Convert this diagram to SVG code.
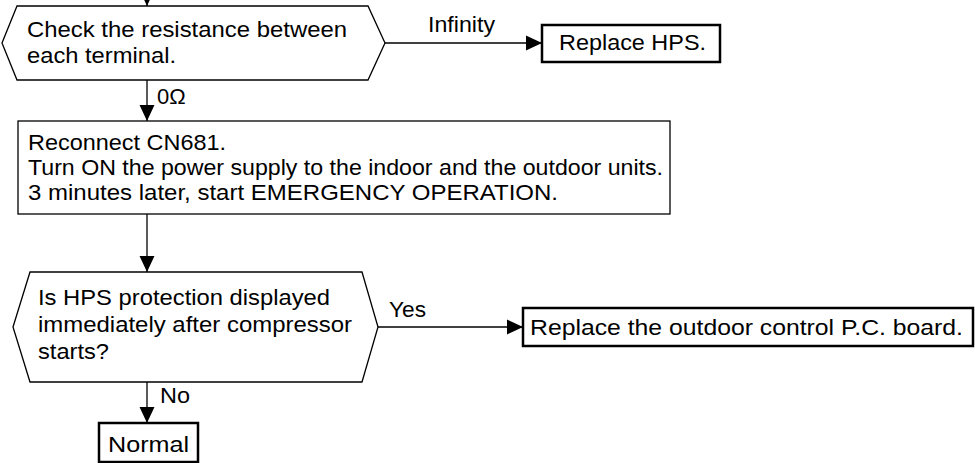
<svg xmlns="http://www.w3.org/2000/svg" width="975" height="463" viewBox="0 0 975 463">
<defs>
<marker id="ah" markerUnits="userSpaceOnUse" markerWidth="16" markerHeight="16" viewBox="0 0 15 14" refX="15" refY="7" orient="auto">
<path d="M0,0 L15,7 L0,14 Z" fill="#000"/>
</marker>
<style>
text{font-family:"Liberation Sans",Arial,sans-serif;font-size:22px;fill:#000}
.thin{fill:#fff;stroke:#000;stroke-width:1.3}
.thick{fill:#fff;stroke:#000;stroke-width:2.5}
.con{fill:none;stroke:#000;stroke-width:1.3;marker-end:url(#ah)}
</style>
</defs>
<rect width="975" height="463" fill="#fff"/>
<g id="connectors">
<line class="con" x1="147" y1="-20" x2="147" y2="6"/>
<line class="con" x1="385" y1="43" x2="542" y2="43"/>
<line class="con" x1="147" y1="80" x2="147" y2="121"/>
<line class="con" x1="147" y1="214" x2="147" y2="272"/>
<line class="con" x1="378" y1="327" x2="523" y2="327"/>
<line class="con" x1="147" y1="382" x2="147" y2="423"/>
<text x="428" y="32" textLength="67" lengthAdjust="spacingAndGlyphs">Infinity</text>
<text x="157" y="104">0Ω</text>
<text x="389" y="317" textLength="37" lengthAdjust="spacingAndGlyphs">Yes</text>
<text x="160" y="403" textLength="30" lengthAdjust="spacingAndGlyphs">No</text>
</g>
<g id="check">
<polygon class="thin" points="2,43 17,6 368,6 385,43 368,80 17,80"/>
<text x="27" y="37" textLength="320" lengthAdjust="spacingAndGlyphs">Check the resistance between</text>
<text x="27" y="63" textLength="149" lengthAdjust="spacingAndGlyphs">each terminal.</text>
</g>
<g id="replaceHPS">
<rect class="thick" x="542" y="25" width="178" height="37"/>
<text x="559" y="50" textLength="147" lengthAdjust="spacingAndGlyphs">Replace HPS.</text>
</g>
<g id="reconnect">
<rect class="thin" x="18" y="121" width="652" height="93"/>
<text x="28" y="150" textLength="198" lengthAdjust="spacingAndGlyphs">Reconnect CN681.</text>
<text x="28" y="175" textLength="635" lengthAdjust="spacingAndGlyphs">Turn ON the power supply to the indoor and the outdoor units.</text>
<text x="28" y="200" textLength="530" lengthAdjust="spacingAndGlyphs">3 minutes later, start EMERGENCY OPERATION.</text>
</g>
<g id="hpsq">
<polygon class="thin" points="13,327 30,272 362,272 378,327 362,382 30,382"/>
<text x="38" y="305" textLength="292" lengthAdjust="spacingAndGlyphs">Is HPS protection displayed</text>
<text x="38" y="332" textLength="314" lengthAdjust="spacingAndGlyphs">immediately after compressor</text>
<text x="38" y="359" textLength="71" lengthAdjust="spacingAndGlyphs">starts?</text>
</g>
<g id="replaceBoard">
<rect class="thick" x="523" y="308" width="450" height="38"/>
<text x="530" y="335" textLength="433" lengthAdjust="spacingAndGlyphs">Replace the outdoor control P.C. board.</text>
</g>
<g id="normal">
<rect class="thick" x="99" y="423" width="99" height="39"/>
<text x="108" y="452" textLength="81" lengthAdjust="spacingAndGlyphs">Normal</text>
</g>
</svg>
